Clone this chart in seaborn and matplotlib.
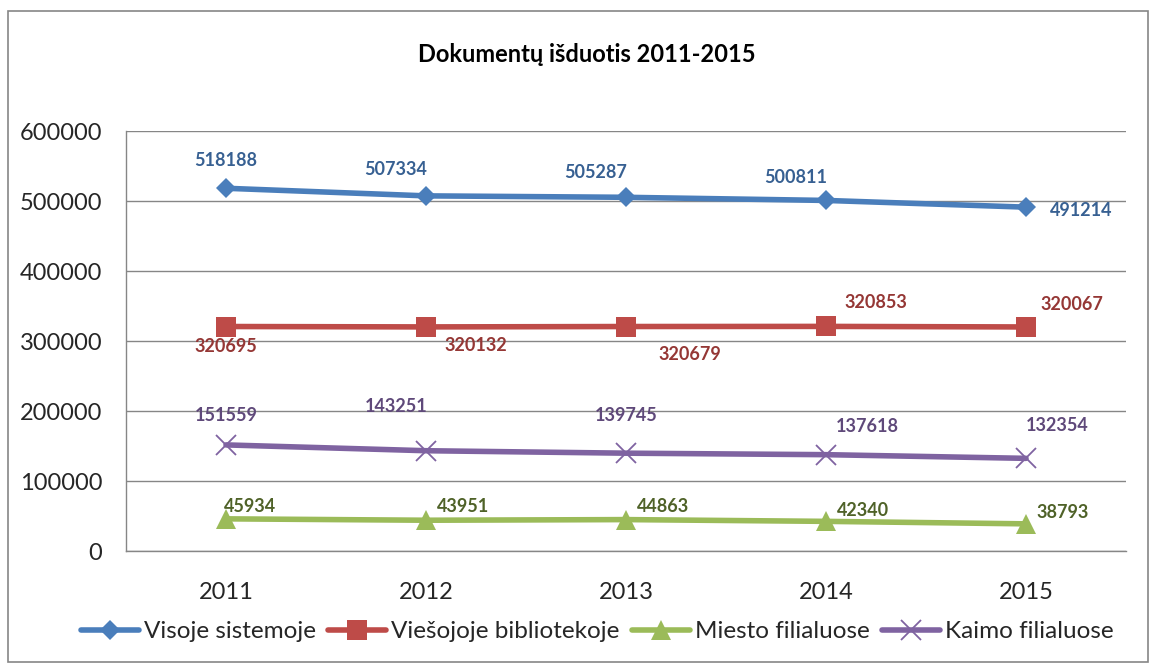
import numpy as np
import pandas as pd
import matplotlib
matplotlib.use('Agg')
from matplotlib import pyplot as plt
from matplotlib.patches import Rectangle
import seaborn as sns

# data
years = [2011, 2012, 2013, 2014, 2015]
visoje = [518188, 507334, 505287, 500811, 491214]
viesojoje = [320695, 320132, 320679, 320853, 320067]
miesto = [45934, 43951, 44863, 42340, 38793]
kaimo = [151559, 143251, 139745, 137618, 132354]
names = ['Visoje sistemoje', 'Viešojoje bibliotekoje', 'Miesto filialuose', 'Kaimo filialuose']
title = 'Dokumentų išduotis 2011-2015'

sns.set_theme(style='white')
plt.rcParams['font.family'] = ['Lato', 'DejaVu Sans']

df = pd.DataFrame({'Metai': years * 4,
                   'Kiekis': visoje + viesojoje + miesto + kaimo,
                   'Serija': sum([[n] * len(years) for n in names], [])})

line_colors = ['#4A7EBB', '#BE4B48', '#9BBB59', '#7F63A1']
label_colors = ['#376092', '#953735', '#4F6228', '#5F497A']
markers = ['D', 's', '^', 'x']
msizes = [10.5, 15, 15, 14]
# label offsets in pixels (dx, dy) for each series / year
offsets = [
    [(0, 28), (-30, 26), (-30, 25), (-30, 23), (55, -3)],
    [(0, -20), (50, -19), (64, -28), (50, 24), (46, 22)],
    [(24, 12), (37, 14), (37, 13), (37, 11), (37, 11)],
    [(0, 29), (-30, 44), (0, 38), (41, 28), (31, 33)],
]

fig = plt.figure(figsize=(11.57, 6.68), dpi=100)
ax = fig.add_axes([126 / 1157, 1 - 551 / 668, 1000 / 1157, 420 / 668])

for i, name in enumerate(names):
    sub = df[df['Serija'] == name]
    sns.lineplot(data=sub, x='Metai', y='Kiekis', ax=ax, color=line_colors[i],
                 linewidth=4, marker=markers[i], markersize=msizes[i],
                 mec=line_colors[i], mfc=line_colors[i],
                 markeredgewidth=1.3 if markers[i] == 'x' else 0,
                 label=name, zorder=3)
    for j, (x, y) in enumerate(zip(sub['Metai'], sub['Kiekis'])):
        dx, dy = offsets[i][j]
        ax.annotate(str(y), (x, y), xytext=(dx, dy), textcoords='offset pixels',
                    ha='center', va='center', fontsize=13, fontweight='bold',
                    color=label_colors[i], zorder=4)

ax.set_xlim(2010.5, 2015.5)
ax.set_ylim(0, 600000)
ax.set_yticks(np.arange(0, 600001, 100000))
ax.set_yticklabels([str(v) for v in range(0, 600001, 100000)], fontsize=17)
ax.set_xticks(years)
ax.set_xticklabels([str(y) for y in years], fontsize=17)
ax.set_xticks(np.arange(2010.5, 2016, 1), minor=True)
ax.tick_params(axis='x', which='major', length=0, pad=22)
ax.tick_params(axis='x', which='minor', length=7, color='#868686', width=1, direction='out')
ax.tick_params(axis='y', length=7, color='#868686', width=1, direction='out', pad=10)
ax.set_xlabel('')
ax.set_ylabel('')
ax.grid(axis='y', color='#868686', linewidth=1)
for s in ['top', 'right']:
    ax.spines[s].set_visible(False)
for s in ['left', 'bottom']:
    ax.spines[s].set_color('#868686')
    ax.spines[s].set_linewidth(1)

handles, labels = ax.get_legend_handles_labels()
if ax.get_legend() is not None:
    ax.get_legend().remove()
fig.legend(handles, labels, loc='center', bbox_to_anchor=(0.516, 0.054), ncol=4,
           frameon=False, fontsize=17.5, handlelength=2.4, handletextpad=0.2,
           columnspacing=0.5)

fig.text(587 / 1157, 1 - 55 / 668, title, ha='center', va='center',
         fontsize=17, fontweight='bold', color='black')
fig.patches.append(Rectangle((8 / 1157, 6 / 668), 1140 / 1157, 651 / 668,
                             transform=fig.transFigure, fill=False,
                             edgecolor='#868686', linewidth=1.2))

fig.savefig('out.png', dpi=100)
